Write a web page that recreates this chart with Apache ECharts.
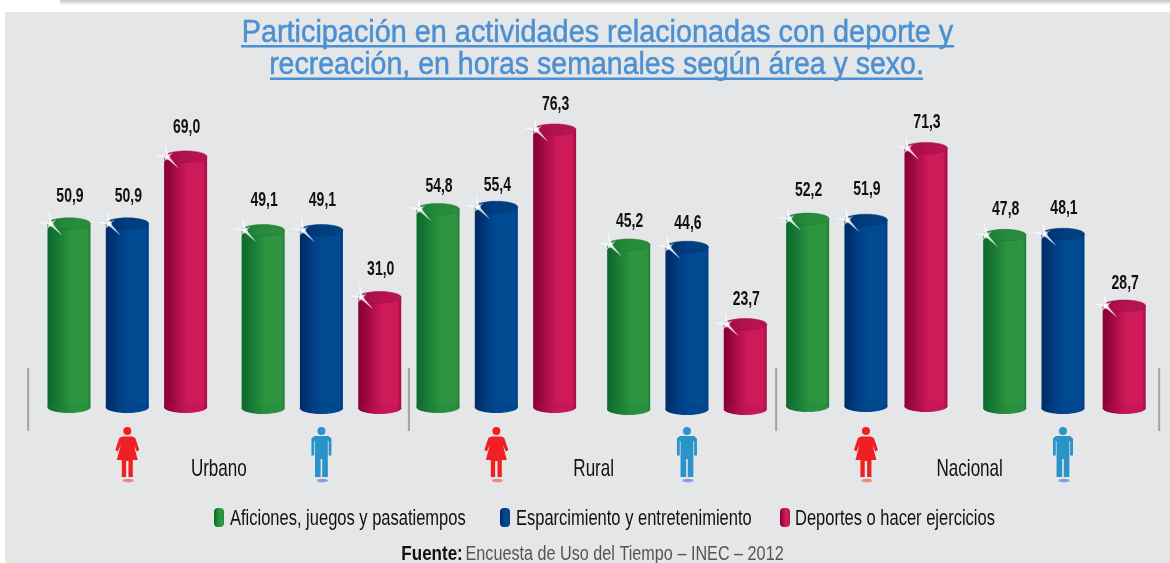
<!DOCTYPE html>
<html>
<head>
<meta charset="utf-8">
<style>html,body{margin:0;padding:0;background:#fff}#c{width:1170px;height:563px}</style>
<script src="https://cdn.jsdelivr.net/npm/echarts@6/dist/echarts.min.js"></script>
</head>
<body>
<div id="c"></div>
<script>
// ---- data ----
const titleLines = ['Participación en actividades relacionadas con deporte y', 'recreación, en horas semanales según área y sexo.'];
const areas = ['Urbano', 'Rural', 'Nacional'];
const seriesNames = ['Aficiones, juegos y pasatiempos', 'Esparcimiento y entretenimiento', 'Deportes o hacer ejercicios'];
// order of values: Urbano F, Urbano M, Rural F, Rural M, Nacional F, Nacional M
const aficiones = [50.9, 49.1, 54.8, 45.2, 52.2, 47.8];
const esparcimiento = [50.9, 49.1, 55.4, 44.6, 51.9, 48.1];
const deportes = [69.0, 31.0, 76.3, 23.7, 71.3, 28.7];
const sourceBold = 'Fuente:';
const sourceText = 'Encuesta de Uso del Tiempo – INEC – 2012';

// ---- layout (slots along the hidden x axis, small drawn offsets) ----
const slotsA = [0, 3.33, 6.33, 9.6, 12.67, 16.05];
const slotsB = [1, 4.33, 7.33, 10.6, 13.67, 17.05];
const slotsC = [2, 5.33, 8.33, 11.6, 14.7, 18.1];
const liftA = [21, 24, 17, 17, 23, 20];
const liftB = [21, 24, 16, 18, 25, 20];
const liftC = [23, 22, 19, 19, 20, 17];
const baseNudge = [1, 2, 1, 3, 0, 2];
const dividerSlots = [-0.7, 5.83, 12.13, 18.7];
const areaLabelSlots = [2.57, 9, 15.45];
const femaleIconSlots = [1, 7.33, 13.67];
const maleIconSlots = [4.33, 10.6, 17.05];
const legendIconX = [214, 500, 780];
const legendTextX = [230, 516, 795];

const SANS = '"Liberation Sans",Arial,sans-serif';
const palettes = [
  {side:[[0,'#0d6a2d'],[.12,'#11702f'],[.3,'#1c7f37'],[.55,'#2d953f'],[.92,'#2e9640'],[1,'#1d7c37']], cap:[[0,'#1a7b36'],[.5,'#268a3c'],[1,'#2a8e3e']], capEdge:'#1b7a36', base:'#1c7f38', key:'#1f8239'},
  {side:[[0,'#002c66'],[.14,'#003070'],[.3,'#003f86'],[.55,'#004a92'],[.92,'#004b93'],[1,'#003b7e']], cap:[[0,'#003070'],[.5,'#003d82'],[1,'#00427f']], capEdge:'#003472', base:'#00407f', key:'#00428a'},
  {side:[[0,'#8b0035'],[.14,'#93043c'],[.3,'#ad0d49'],[.55,'#cd1a58'],[.9,'#cf1a59'],[1,'#a00d45']], cap:[[0,'#a00c46'],[.5,'#b31150'],[1,'#b81453']], capEdge:'#a20c47', base:'#b01050', key:'#b5104e'}
];
const hGrad = stops => ({type:'linear', x:0, y:0, x2:1, y2:0, colorStops:stops.map(s => ({offset:s[0], color:s[1]}))});

const HW = 21.5, RY = 5.8;
function sparkle(cx, cy) {
  const ray = (dx, dy, w) => {
    const l = Math.hypot(dx, dy), nx = -dy / l * w, ny = dx / l * w;
    return {type:'polygon', shape:{points:[[cx+nx,cy+ny],[cx+dx,cy+dy],[cx-nx,cy-ny]]}, style:{fill:'rgba(255,255,255,0.8)'}, silent:true};
  };
  return [
    ray(-14, -2, 1.2), ray(-2, -15, 1.2), ray(12, 12, 1.6), ray(6, -4, 1), ray(-4, 6, 1),
    {type:'circle', shape:{cx, cy, r:3.2}, style:{fill:'rgba(255,255,255,0.5)'}, silent:true},
    {type:'circle', shape:{cx, cy, r:1.7}, style:{fill:'#fff'}, silent:true}
  ];
}
function barRenderer(pi, lifts) {
  const p = palettes[pi];
  return function (params, api) {
    const slot = api.value(0), v = api.value(1), i = params.dataIndex;
    const top = api.coord([slot, v]), zero = api.coord([slot, 0]);
    const cx = top[0], ty = top[1], by = zero[1] - RY + baseNudge[i];
    const grad = hGrad(p.side);
    const kids = [
      {type:'ellipse', shape:{cx, cy:by, rx:HW, ry:RY}, style:{fill:grad}},
      {type:'rect', shape:{x:cx-HW, y:ty, width:HW*2, height:by-ty}, style:{fill:grad}},
      {type:'ellipse', shape:{cx, cy:by-.5, rx:HW-1, ry:RY-1}, style:{fill:p.base, opacity:.25}},
      {type:'ellipse', shape:{cx, cy:ty, rx:HW, ry:RY}, style:{fill:hGrad(p.cap), stroke:p.capEdge, lineWidth:.5}},
      {type:'text', x:cx+1, y:ty-RY-lifts[i], scaleX:.7, style:{text:v.toFixed(1).replace('.', ','), fill:'#111', font:'bold 20px '+SANS, align:'center', verticalAlign:'middle'}}
    ].concat(sparkle(cx-HW+3, ty));
    return {type:'group', children:kids};
  };
}
function makeData(slots, vals){ return vals.map((v,i)=>[slots[i], v]); }
function bars(idx, slots, vals, lifts){
  return {type:'custom', name:seriesNames[idx], coordinateSystem:'cartesian2d',
    encode:{x:0, y:1}, data:makeData(slots, vals), renderItem:barRenderer(idx, lifts),
    itemStyle:{color:palettes[idx].key}, silent:true, clip:false};
}
function person(kind, cx, y){
  const fem = kind === 'f';
  const col = fem ? '#f01f24' : '#2a93c9';
  const shadow = fem ? 'rgba(240,60,40,.55)' : 'rgba(50,100,220,.55)';
  const body = fem
    ? [[-5,9.5],[5,9.5],[8,11],[12,23],[9.5,24.5],[6.5,18],[10.5,33],[5.5,33],[5.5,50],[1.2,50],[1.2,34],[-1.2,34],[-1.2,50],[-5.5,50],[-5.5,33],[-10.5,33],[-6.5,18],[-9.5,24.5],[-12,23],[-8,11]]
    : [[-7,9],[7,9],[10,11.5],[10,28.5],[7.2,28.5],[7.2,14],[6.4,14],[6.4,50],[.8,50],[.8,32],[-.8,32],[-.8,50],[-6.4,50],[-6.4,14],[-7.2,14],[-7.2,28.5],[-10,28.5],[-10,11.5]];
  return {type:'group', x:cx, y:y, silent:true, children:[
    {type:'circle', shape:{cx:0, cy:4, r:4}, style:{fill:col}},
    {type:'polygon', shape:{points:body}, style:{fill:col}},
    {type:'ellipse', shape:{cx:1, cy:53.5, rx:5.5, ry:1.8}, style:{fill:shadow}}
  ]};
}
const annotations = [];
dividerSlots.forEach(s => annotations.push(['d', s]));
femaleIconSlots.forEach(s => annotations.push(['f', s]));
maleIconSlots.forEach(s => annotations.push(['m', s]));
areaLabelSlots.forEach((s,i) => annotations.push(['a', s, areas[i]]));

const TITLE_COL = '#4a90d2';
const legendGraphics = [];
seriesNames.forEach((n, i) => {
  legendGraphics.push({type:'rect', z:5, silent:true, shape:{x:legendIconX[i], y:508, width:10, height:19, r:4}, style:{fill:hGrad(palettes[i].side)}});
  legendGraphics.push({type:'text', z:5, silent:true, x:legendTextX[i], y:519, scaleX:.75, style:{text:n, fill:'#111', font:'22px '+SANS, align:'left', verticalAlign:'middle'}});
});

const option = {
  animation:false,
  backgroundColor:'#ffffff',
  graphic:[
    {type:'rect', z:-3, silent:true, shape:{x:60,y:0,width:1110,height:5}, style:{fill:{type:'linear',x:0,y:0,x2:0,y2:1,colorStops:[{offset:0,color:'#c4c4c4'},{offset:1,color:'#ffffff'}]}}},
    {type:'rect', z:-2, silent:true, shape:{x:5,y:12,width:1165,height:551}, style:{fill:'#e5e6e8'}},
    {type:'text', z:5, silent:true, x:597.5, y:33, scaleX:.93, style:{text:titleLines[0], fill:TITLE_COL, stroke:TITLE_COL, lineWidth:.5, font:'31px '+SANS, align:'center', verticalAlign:'middle'}},
    {type:'text', z:5, silent:true, x:596.5, y:65.5, scaleX:.92, style:{text:titleLines[1], fill:TITLE_COL, stroke:TITLE_COL, lineWidth:.5, font:'31px '+SANS, align:'center', verticalAlign:'middle'}},
    {type:'rect', z:5, silent:true, shape:{x:241,y:45,width:713,height:2.5}, style:{fill:TITLE_COL}},
    {type:'rect', z:5, silent:true, shape:{x:270,y:77.5,width:653,height:2.5}, style:{fill:TITLE_COL}},
    {type:'text', z:5, silent:true, x:592.5, y:554, scaleX:.81, style:{
      rich:{b:{font:'bold 21px '+SANS, fill:'#111'}, r:{font:'20px '+SANS, fill:'#555'}},
      text:'{b|'+sourceBold+'} {r|'+sourceText+'}', align:'center', verticalAlign:'middle'}}
  ].concat(legendGraphics),
  legend:{show:false, data:seriesNames},
  grid:{left:10.7, top:42, width:1154.3, height:370, containLabel:false},
  xAxis:{type:'value', min:-1, max:18.8, show:false},
  yAxis:{type:'value', min:0, max:100, interval:20, show:false},
  series:[
    bars(0, slotsA, aficiones, liftA),
    bars(1, slotsB, esparcimiento, liftB),
    bars(2, slotsC, deportes, liftC),
    {type:'custom', name:'anotaciones', coordinateSystem:'cartesian2d', silent:true, clip:false,
      encode:{x:0}, data:annotations.map(a=>[a[1], 0]),
      renderItem:function(params, api){
        const a = annotations[params.dataIndex];
        const p = api.coord([a[1], 0]);
        if (a[0]==='d') return {type:'rect', shape:{x:p[0]-1, y:p[1]-44, width:2, height:63}, style:{fill:'#a0a2a5'}};
        if (a[0]==='a') return {type:'text', x:p[0], y:p[1]+57, scaleX:.71, style:{text:a[2], fill:'#111', font:'24px '+SANS, align:'center', verticalAlign:'middle'}};
        return person(a[0], p[0], p[1]+15);
      }}
  ]
};
const chart = echarts.init(document.getElementById('c'), null, {renderer:'canvas'});
chart.setOption(option);
</script>
</body>
</html>
